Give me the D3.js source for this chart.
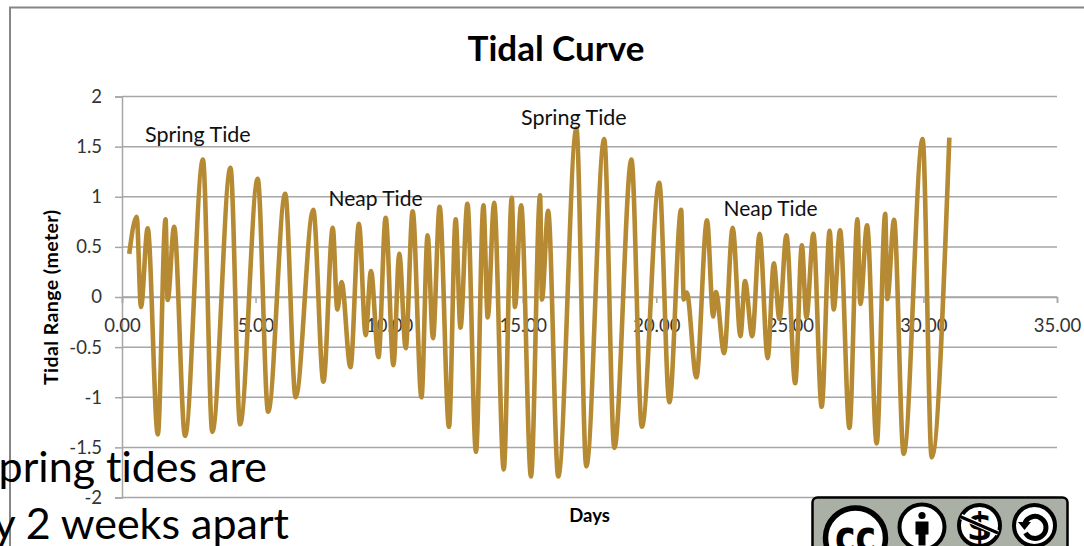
<!DOCTYPE html>
<html>
<head>
<meta charset="utf-8">
<script src="https://cdn.jsdelivr.net/npm/d3@7"></script>
<style>
  html, body { margin: 0; padding: 0; background: #fff; overflow: hidden; }
  svg { display: block; font-family: Lato, "Open Sans", sans-serif; font-variant-ligatures: none; }
</style>
</head>
<body>
<div id="plot"></div>
<script>
// high and low turning points
const days = [0.27, 0.55, 0.71, 0.96, 1.34, 1.63, 1.71, 1.95, 2.36, 3.03, 3.38, 4.06, 4.42, 5.08, 5.47, 6.11, 6.50, 7.16, 7.54, 7.89,
    8.06, 8.22, 8.55, 8.87, 9.12, 9.32, 9.60, 9.87, 10.16, 10.38, 10.62, 10.88, 11.21, 11.44, 11.64, 11.89, 12.24, 12.49, 12.67, 12.93,
    13.25, 13.53, 13.69, 13.93, 14.29, 14.59, 14.71, 14.94, 15.31, 15.65, 15.72, 15.95, 16.33, 17.01, 17.38, 18.05, 18.43, 19.07, 19.46, 20.11,
    20.49, 20.93, 21.03, 21.14, 21.50, 21.90, 22.13, 22.23, 22.54, 22.86, 23.15, 23.32, 23.59, 23.87, 24.17, 24.40, 24.61, 24.87, 25.20, 25.45,
    25.62, 25.88, 26.19, 26.49, 26.64, 26.88, 27.23, 27.53, 27.64, 27.89, 28.25, 28.57, 28.65, 28.90, 29.26, 29.97, 30.31, 30.97];
const tide = [0.43, 0.80, -0.10, 0.685, -1.37, 0.775, -0.03, 0.70, -1.385, 1.37, -1.345, 1.29, -1.27, 1.18, -1.145, 1.03, -1.0, 0.87, -0.845, 0.69,
    -0.125, 0.15, -0.70, 0.73, -0.38, 0.26, -0.60, 0.79, -0.68, 0.43, -0.51, 0.855, -1.0, 0.615, -0.41, 0.90, -1.295, 0.775, -0.305, 0.93,
    -1.545, 0.915, -0.205, 0.94, -1.72, 0.99, -0.10, 0.915, -1.79, 1.015, -0.025, 0.86, -1.79, 1.68, -1.69, 1.575, -1.505, 1.37, -1.295, 1.14,
    -1.05, 0.87, -0.025, 0.045, -0.80, 0.765, -0.195, 0.05, -0.56, 0.69, -0.39, 0.16, -0.39, 0.63, -0.61, 0.335, -0.22, 0.615, -0.86, 0.515,
    -0.205, 0.63, -1.095, 0.66, -0.125, 0.665, -1.305, 0.775, -0.07, 0.715, -1.46, 0.83, -0.02, 0.77, -1.565, 1.575, -1.60, 1.59];

const xTicks = [0, 5, 10, 15, 20, 25, 30, 35];
const yTicks = [2, 1.5, 1, 0.5, 0, -0.5, -1, -1.5, -2];

const width = 1084, height = 546;

const svg = d3.select("#plot")
    .append("svg")
    .attr("width", width)
    .attr("height", height);

let x = d3.scaleLinear().domain([0, 35]).range([122, 1057]);
let y = d3.scaleLinear().domain([-2, 2]).range([497.5, 96.5]);

// chart frame
svg.append("path")
    .attr("d", "M10,546V7.5H1084")
    .attr("fill", "none")
    .attr("stroke", "#868686")
    .attr("stroke-width", 2);

svg.append("text")
    .attr("x", 556)
    .attr("y", 61)
    .attr("text-anchor", "middle")
    .attr("font-size", 35)
    .attr("font-weight", 700)
    .attr("fill", "#000")
    .text("Tidal Curve");

// gridlines
svg.append("g")
    .selectAll("line")
    .data(yTicks)
    .enter()
    .append("line")
    .attr("x1", x(0))
    .attr("x2", x(35))
    .attr("y1", d => y(d))
    .attr("y2", d => y(d))
    .attr("stroke", "#a6a6a6")
    .attr("stroke-width", 1.5);

// y axis
let yAxis = svg.append("g")
    .attr("transform", "translate(" + x(0) + ",0)")
    .call(d3.axisLeft(y).tickValues(yTicks).tickFormat(d => d).tickSize(7).tickPadding(13));

// x axis crosses at zero
let xAxis = svg.append("g")
    .attr("transform", "translate(0," + y(0) + ")")
    .call(d3.axisBottom(x).tickValues(xTicks).tickFormat(d3.format(".2f")).tickSize(6).tickPadding(16));

[yAxis, xAxis].forEach(a => {
    a.selectAll("path, line").attr("stroke", "#a6a6a6").attr("stroke-width", 1.5);
    a.selectAll("text").attr("font-size", 18.5).attr("font-family", "Lato, sans-serif").attr("fill", "#333");
});

// curve
svg.append("path")
    .datum(days.map((d, i) => [d, tide[i]]))
    .attr("fill", "none")
    .attr("stroke", "#b58a33")
    .attr("stroke-width", 4.6)
    .attr("stroke-linejoin", "round")
    .attr("d", d3.line()
        .x(d => x(d[0]))
        .y(d => y(d[1]))
        .curve(d3.curveMonotoneX)
    );

// axis titles
svg.append("text")
    .attr("transform", "translate(57.5,297.5) rotate(-90)")
    .attr("text-anchor", "middle")
    .attr("font-size", 19.5)
    .attr("font-weight", 700)
    .attr("textLength", 175)
    .text("Tidal Range (meter)");

svg.append("text")
    .attr("x", 589.5)
    .attr("y", 522)
    .attr("text-anchor", "middle")
    .attr("font-size", 18.5)
    .attr("font-weight", 700)
    .text("Days");

// tide labels
[["Spring Tide", 145, 142, 21.5], ["Neap Tide", 328.5, 206, 21], ["Spring Tide", 521, 125, 21.5], ["Neap Tide", 723.5, 216, 21]].forEach(d => {
    svg.append("text")
        .attr("x", d[1])
        .attr("y", d[2])
        .attr("font-size", d[3])
        .attr("fill", "#111")
        .text(d[0]);
});

// slide text sitting over the chart, cut off by the left edge
svg.append("text")
    .attr("x", 267)
    .attr("y", 482)
    .attr("text-anchor", "end")
    .attr("font-size", 43)
    .attr("fill", "#000")
    .text("pring tides are");

svg.append("text")
    .attr("x", 289)
    .attr("y", 539)
    .attr("text-anchor", "end")
    .attr("font-size", 43)
    .attr("fill", "#000")
    .text("y 2 weeks apart");

// licence badge, bottom runs off the page
const badge = svg.append("g");
badge.append("rect")
    .attr("x", 812.5)
    .attr("y", 497.5)
    .attr("width", 255)
    .attr("height", 70)
    .attr("rx", 5)
    .attr("fill", "#aab0a6")
    .attr("stroke", "#000")
    .attr("stroke-width", 2.5);

function badgeCircle(cx, cy, r, sw) {
    badge.append("circle")
        .attr("cx", cx)
        .attr("cy", cy)
        .attr("r", r)
        .attr("fill", "#fff")
        .attr("stroke", "#000")
        .attr("stroke-width", sw);
}

badgeCircle(855.5, 538, 30, 5.5);
badge.append("text")
    .attr("x", 855.5)
    .attr("y", 552)
    .attr("text-anchor", "middle")
    .attr("font-size", 44)
    .attr("font-weight", 700)
    .attr("font-family", "'DejaVu Sans', sans-serif")
    .attr("textLength", 41)
    .attr("lengthAdjust", "spacingAndGlyphs")
    .text("cc");

// attribution
badgeCircle(922, 527, 22.5, 4);
badge.append("circle").attr("cx", 922).attr("cy", 515.5).attr("r", 3.6).attr("fill", "#000");
badge.append("path")
    .attr("d", "M915.5,521.5h13v13h-3v11h-7v-11h-3z")
    .attr("fill", "#000");

// non commercial
badgeCircle(979.5, 525.5, 20.5, 4);
badge.append("text")
    .attr("x", 979.5)
    .attr("y", 540)
    .attr("text-anchor", "middle")
    .attr("font-size", 37)
    .attr("font-weight", 700)
    .attr("font-family", "'DejaVu Sans', sans-serif")
    .text("$");
badge.append("line")
    .attr("x1", 961).attr("y1", 516.5)
    .attr("x2", 998).attr("y2", 533)
    .attr("stroke", "#fff")
    .attr("stroke-width", 5.5);
badge.append("line")
    .attr("x1", 960).attr("y1", 516.5)
    .attr("x2", 998).attr("y2", 533)
    .attr("stroke", "#000")
    .attr("stroke-width", 3);

// share alike
badgeCircle(1034.5, 525.5, 20.5, 4);
badge.append("path")
    .attr("d", "M1024.5,524a11,11 0 1,1 1,9")
    .attr("fill", "none")
    .attr("stroke", "#000")
    .attr("stroke-width", 5);
badge.append("path")
    .attr("d", "M1018,522h13l-6.5,8z")
    .attr("fill", "#000");
</script>
</body>
</html>
